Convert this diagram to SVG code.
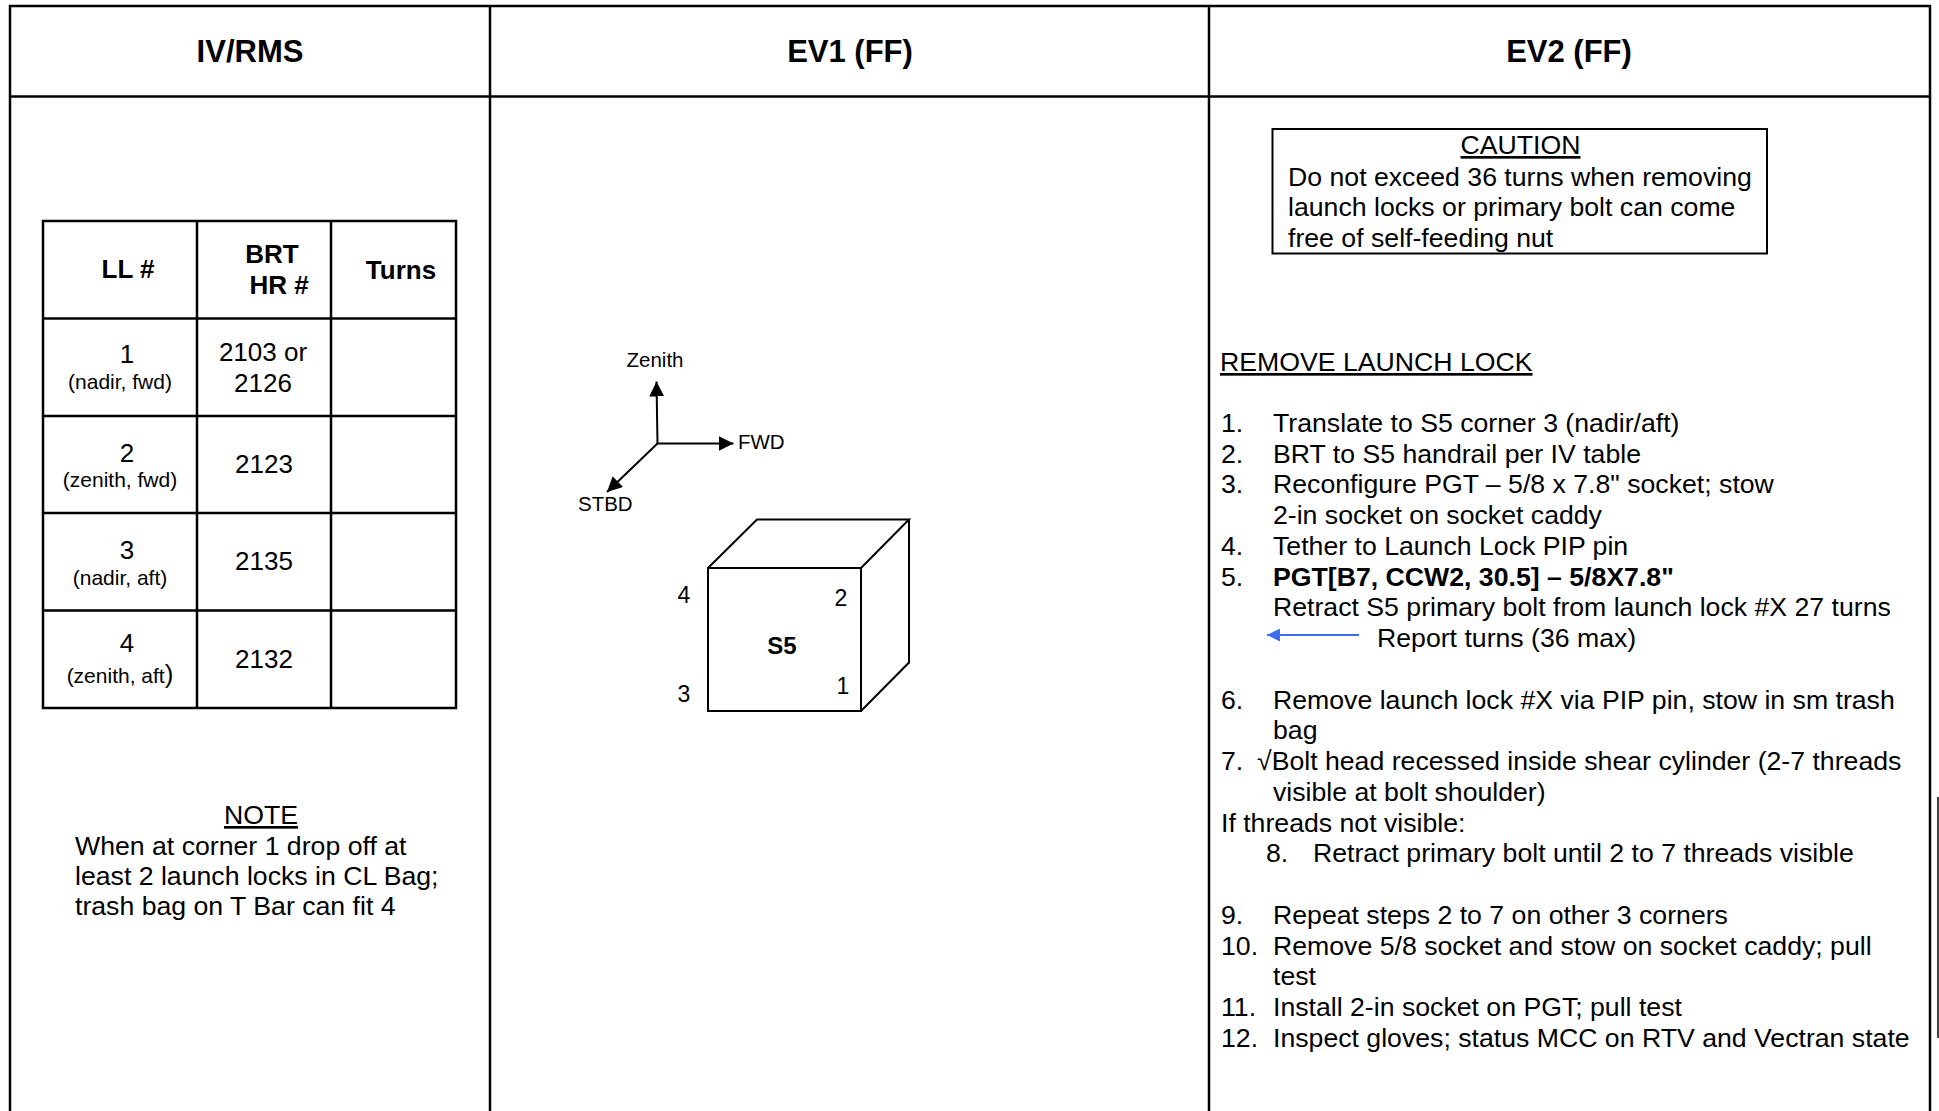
<svg xmlns="http://www.w3.org/2000/svg" width="1939" height="1111" viewBox="0 0 1939 1111">
<style>
text{font-family:"Liberation Sans",Arial,Helvetica,sans-serif;fill:#000}
.hd{font-size:31px;font-weight:bold;text-anchor:middle}
.tb{font-size:26px;font-weight:bold;text-anchor:middle}
.tx{font-size:26px;text-anchor:middle}
.sm{font-size:21px;text-anchor:middle}
.ax{font-size:20.5px}
.dg{font-size:23px;text-anchor:middle}
.bd{font-size:26.67px}
.u{text-decoration:underline}
.frame{stroke:#000;stroke-width:2.5;fill:none}
.ln{stroke:#000;stroke-width:2;fill:none}
</style>
<defs>
<marker id="ah" viewBox="0 0 10 10" refX="10" refY="5" markerWidth="15" markerHeight="15" markerUnits="userSpaceOnUse" orient="auto"><path d="M0,0 L10,5 L0,10 Z" fill="#000"/></marker>
<marker id="ahb" viewBox="0 0 10 10" refX="10" refY="5" markerWidth="15" markerHeight="13" markerUnits="userSpaceOnUse" orient="auto"><path d="M0,0 L10,5 L0,10 Z" fill="#3d6ef0"/></marker>
</defs>
<rect width="1939" height="1111" fill="#fff"/>
<g id="frame">
<line class="frame" x1="9" y1="6" x2="1931" y2="6"/>
<line class="frame" x1="9" y1="96.5" x2="1931" y2="96.5"/>
<line class="frame" x1="10" y1="5" x2="10" y2="1111"/>
<line class="frame" x1="490" y1="5" x2="490" y2="1111"/>
<line class="frame" x1="1209" y1="5" x2="1209" y2="1111"/>
<line class="frame" x1="1930" y1="5" x2="1930" y2="1111"/>
<line stroke="#000" stroke-width="1.5" x1="1938" y1="797" x2="1938" y2="1038"/>
</g>
<g id="headers">
<text class="hd" x="250" y="62">IV/RMS</text>
<text class="hd" x="850" y="62">EV1 (FF)</text>
<text class="hd" x="1569" y="62">EV2 (FF)</text>
</g>
<g id="ll-table">
<rect class="frame" x="43" y="221" width="413" height="487"/>
<line class="frame" x1="197" y1="221" x2="197" y2="708"/>
<line class="frame" x1="331" y1="221" x2="331" y2="708"/>
<line class="frame" x1="43" y1="318.5" x2="456" y2="318.5"/>
<line class="frame" x1="43" y1="416" x2="456" y2="416"/>
<line class="frame" x1="43" y1="513" x2="456" y2="513"/>
<line class="frame" x1="43" y1="610.5" x2="456" y2="610.5"/>
<text class="tb" x="128" y="278">LL #</text>
<text class="tb" x="272" y="263">BRT</text>
<text class="tb" x="279" y="294">HR #</text>
<text class="tb" x="401" y="279">Turns</text>
<text class="tx" x="127" y="363">1</text>
<text class="sm" x="120" y="389">(nadir, fwd)</text>
<text class="tx" x="263" y="361">2103 or</text>
<text class="tx" x="263" y="392">2126</text>
<text class="tx" x="127" y="462">2</text>
<text class="sm" x="120" y="487">(zenith, fwd)</text>
<text class="tx" x="264" y="473">2123</text>
<text class="tx" x="127" y="559">3</text>
<text class="sm" x="120" y="585">(nadir, aft)</text>
<text class="tx" x="264" y="570">2135</text>
<text class="tx" x="127" y="652">4</text>
<text class="sm" x="120" y="683">(zenith, aft<tspan font-size="26px">)</tspan></text>
<text class="tx" x="264" y="668">2132</text>
</g>
<g id="note">
<text class="bd u" x="261" y="824" text-anchor="middle">NOTE</text>
<text class="bd" x="75" y="855">When at corner 1 drop off at</text>
<text class="bd" x="75" y="885">least 2 launch locks in CL Bag;</text>
<text class="bd" x="75" y="915">trash bag on T Bar can fit 4</text>
</g>
<g id="axes-labels">
<text class="ax" x="655" y="367" text-anchor="middle">Zenith</text>
<text class="ax" x="738" y="449">FWD</text>
<text class="ax" x="578" y="511">STBD</text>
</g>
<g id="s5-cube">
<rect class="ln" x="708" y="568" width="153" height="143"/>
<path class="ln" d="M708,568 L757,519.5 L909,519.5 L861,568 M909,519.5 L909,662.5 L861,711"/>
<text class="dg" x="684" y="603">4</text>
<text class="dg" x="684" y="702">3</text>
<text class="dg" x="841" y="606">2</text>
<text class="dg" x="843" y="694">1</text>
<text x="782" y="654" font-size="24px" font-weight="bold" text-anchor="middle">S5</text>
</g>
<g id="caution">
<rect x="1272.5" y="129" width="494.5" height="124.5" fill="none" stroke="#000" stroke-width="2"/>
<text class="bd u" x="1520.5" y="154" text-anchor="middle">CAUTION</text>
<text class="bd" x="1288" y="185.5">Do not exceed 36 turns when removing</text>
<text class="bd" x="1288" y="216">launch locks or primary bolt can come</text>
<text class="bd" x="1288" y="246.5">free of self-feeding nut</text>
</g>
<g id="procedure">
<text class="bd u" x="1220" y="371">REMOVE LAUNCH LOCK</text>
<text class="bd" x="1221" y="431.7">1.</text><text class="bd" x="1273" y="431.7">Translate to S5 corner 3 (nadir/aft)</text>
<text class="bd" x="1221" y="462.5">2.</text><text class="bd" x="1273" y="462.5">BRT to S5 handrail per IV table</text>
<text class="bd" x="1221" y="493.2">3.</text><text class="bd" x="1273" y="493.2">Reconfigure PGT – 5/8 x 7.8" socket; stow</text>
<text class="bd" x="1273" y="524">2-in socket on socket caddy</text>
<text class="bd" x="1221" y="554.7">4.</text><text class="bd" x="1273" y="554.7">Tether to Launch Lock PIP pin</text>
<text class="bd" x="1221" y="585.5">5.</text><text class="bd" x="1273" y="585.5" font-weight="bold">PGT[B7, CCW2, 30.5] – 5/8X7.8"</text>
<text class="bd" x="1273" y="616.2">Retract S5 primary bolt from launch lock #X 27 turns</text>
<text class="bd" x="1377" y="647">Report turns (36 max)</text>
<text class="bd" x="1221" y="708.5">6.</text><text class="bd" x="1273" y="708.5">Remove launch lock #X via PIP pin, stow in sm trash</text>
<text class="bd" x="1273" y="739.2">bag</text>
<text class="bd" x="1221" y="770">7.</text><text class="bd" x="1257" y="770">√Bolt head recessed inside shear cylinder (2-7 threads</text>
<text class="bd" x="1273" y="800.7">visible at bolt shoulder)</text>
<text class="bd" x="1221" y="831.5">If threads not visible:</text>
<text class="bd" x="1266" y="862.2">8.</text><text class="bd" x="1313" y="862.2">Retract primary bolt until 2 to 7 threads visible</text>
<text class="bd" x="1221" y="923.7">9.</text><text class="bd" x="1273" y="923.7">Repeat steps 2 to 7 on other 3 corners</text>
<text class="bd" x="1221" y="954.5">10.</text><text class="bd" x="1273" y="954.5">Remove 5/8 socket and stow on socket caddy; pull</text>
<text class="bd" x="1273" y="985.2">test</text>
<text class="bd" x="1221" y="1016">11.</text><text class="bd" x="1273" y="1016">Install 2-in socket on PGT; pull test</text>
<text class="bd" x="1221" y="1046.7">12.</text><text class="bd" x="1273" y="1046.7">Inspect gloves; status MCC on RTV and Vectran state</text>
</g>
<g id="connectors">
<line class="ln" x1="657.5" y1="443.5" x2="656.5" y2="381.5" marker-end="url(#ah)"/>
<line class="ln" x1="656.5" y1="443.5" x2="733.5" y2="443.5" marker-end="url(#ah)"/>
<line class="ln" x1="657.5" y1="443.5" x2="607" y2="492" marker-end="url(#ah)"/>
<line stroke="#3d6ef0" stroke-width="2" x1="1359" y1="635" x2="1267" y2="635" marker-end="url(#ahb)"/>
</g>
</svg>
